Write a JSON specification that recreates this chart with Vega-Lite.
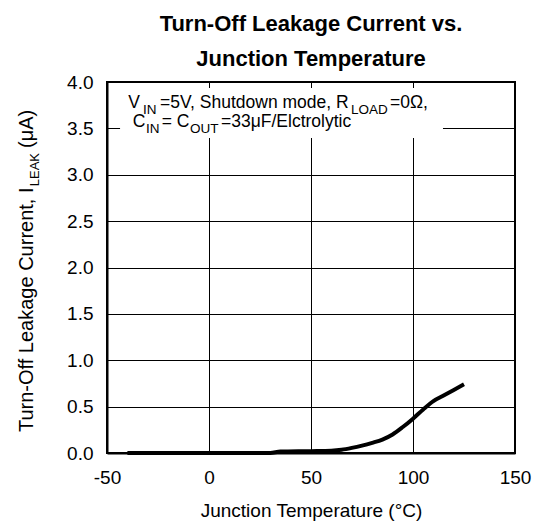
{
  "$schema": "https://vega.github.io/schema/vega-lite/v6.json",
  "width": 408,
  "height": 371,
  "autosize": {"type": "none"},
  "padding": {"left": 107, "top": 82, "right": 21, "bottom": 70},
  "background": "white",
  "config": {
    "font": "Liberation Sans",
    "view": {"stroke": "black", "strokeWidth": 2},
    "axis": {
      "grid": true,
      "gridColor": "black",
      "gridWidth": 1,
      "gridOpacity": 1,
      "ticks": false,
      "tickSize": 0,
      "domainColor": "black",
      "domainWidth": 2,
      "labelColor": "black",
      "labelFontSize": 19,
      "labelOverlap": false,
      "labelFlush": false,
      "titleColor": "black",
      "titleFontSize": 19,
      "titleFontWeight": "normal"
    }
  },
  "title": {
    "text": ["Turn-Off Leakage Current vs.", "Junction Temperature"],
    "fontSize": 22,
    "fontWeight": "bold",
    "color": "black",
    "lineHeight": 35,
    "anchor": "middle",
    "baseline": "bottom",
    "offset": -20
  },
  "datasets": {
    "curve": [
      {"T": -40, "I": 0},
      {"T": 30, "I": 0},
      {"T": 35, "I": 0.015},
      {"T": 50, "I": 0.02},
      {"T": 60, "I": 0.025},
      {"T": 65, "I": 0.035},
      {"T": 70, "I": 0.055},
      {"T": 75, "I": 0.08},
      {"T": 80, "I": 0.11},
      {"T": 85, "I": 0.145},
      {"T": 90, "I": 0.2},
      {"T": 95, "I": 0.28},
      {"T": 100, "I": 0.37},
      {"T": 105, "I": 0.47},
      {"T": 110, "I": 0.56},
      {"T": 115, "I": 0.62},
      {"T": 120, "I": 0.68},
      {"T": 125, "I": 0.74}
    ],
    "box": [
      {"T": -43.6, "T2": 114.7, "I": 3.396, "I2": 3.935}
    ],
    "ann_main": [
      {"T": -39.6, "I": 3.716, "txt": "V"},
      {"T": -24.0, "I": 3.716, "txt": "=5V, Shutdown mode, R"},
      {"T": 88.7, "I": 3.716, "txt": "=0Ω,"},
      {"T": -37.4, "I": 3.518, "txt": "C"},
      {"T": -23.2, "I": 3.518, "txt": "= C"},
      {"T": 5.9, "I": 3.518, "txt": "=33μF/Elctrolytic"}
    ],
    "ann_sub": [
      {"T": -32.3, "I": 3.716, "txt": "IN"},
      {"T": 69.6, "I": 3.716, "txt": "LOAD"},
      {"T": -30.9, "I": 3.518, "txt": "IN"},
      {"T": -9.3, "I": 3.518, "txt": "OUT"}
    ],
    "ytitle_main": [
      {"T": -86.3, "I": 0.226, "txt": "Turn-Off Leakage Current, I"},
      {"T": -86.3, "I": 3.289, "txt": "(μA)"}
    ],
    "ytitle_sub": [
      {"T": -83.3, "I": 2.876, "txt": "LEAK"}
    ]
  },
  "encoding": {
    "x": {
      "field": "T",
      "type": "quantitative",
      "scale": {"domain": [-50, 150], "nice": false, "zero": false},
      "axis": {
        "title": "Junction Temperature (°C)",
        "values": [-50, 0, 50, 100, 150],
        "labelExpr": "datum.value + ''",
        "labelPadding": 15,
        "titlePadding": 14
      }
    },
    "y": {
      "field": "I",
      "type": "quantitative",
      "scale": {"domain": [0, 4], "nice": false, "zero": false},
      "axis": {
        "title": null,
        "values": [0, 0.5, 1, 1.5, 2, 2.5, 3, 3.5, 4],
        "format": ".1f",
        "labelPadding": 14
      }
    }
  },
  "layer": [
    {
      "data": {"name": "box"},
      "mark": {"type": "rect", "fill": "white", "strokeWidth": 0},
      "encoding": {"x2": {"field": "T2"}, "y2": {"field": "I2"}}
    },
    {
      "data": {"name": "curve"},
      "mark": {"type": "line", "color": "black", "strokeWidth": 4, "interpolate": "monotone"}
    },
    {
      "data": {"name": "ann_main"},
      "mark": {"type": "text", "align": "left", "baseline": "alphabetic", "fontSize": 17.5, "color": "black"},
      "encoding": {"text": {"field": "txt"}}
    },
    {
      "data": {"name": "ann_sub"},
      "mark": {"type": "text", "align": "left", "baseline": "alphabetic", "fontSize": 13.5, "dy": 6, "color": "black"},
      "encoding": {"text": {"field": "txt"}}
    },
    {
      "data": {"name": "ytitle_main"},
      "mark": {"type": "text", "align": "left", "baseline": "alphabetic", "angle": 270, "fontSize": 20, "color": "black"},
      "encoding": {"text": {"field": "txt"}}
    },
    {
      "data": {"name": "ytitle_sub"},
      "mark": {"type": "text", "align": "left", "baseline": "alphabetic", "angle": 270, "fontSize": 13, "color": "black"},
      "encoding": {"text": {"field": "txt"}}
    }
  ]
}
